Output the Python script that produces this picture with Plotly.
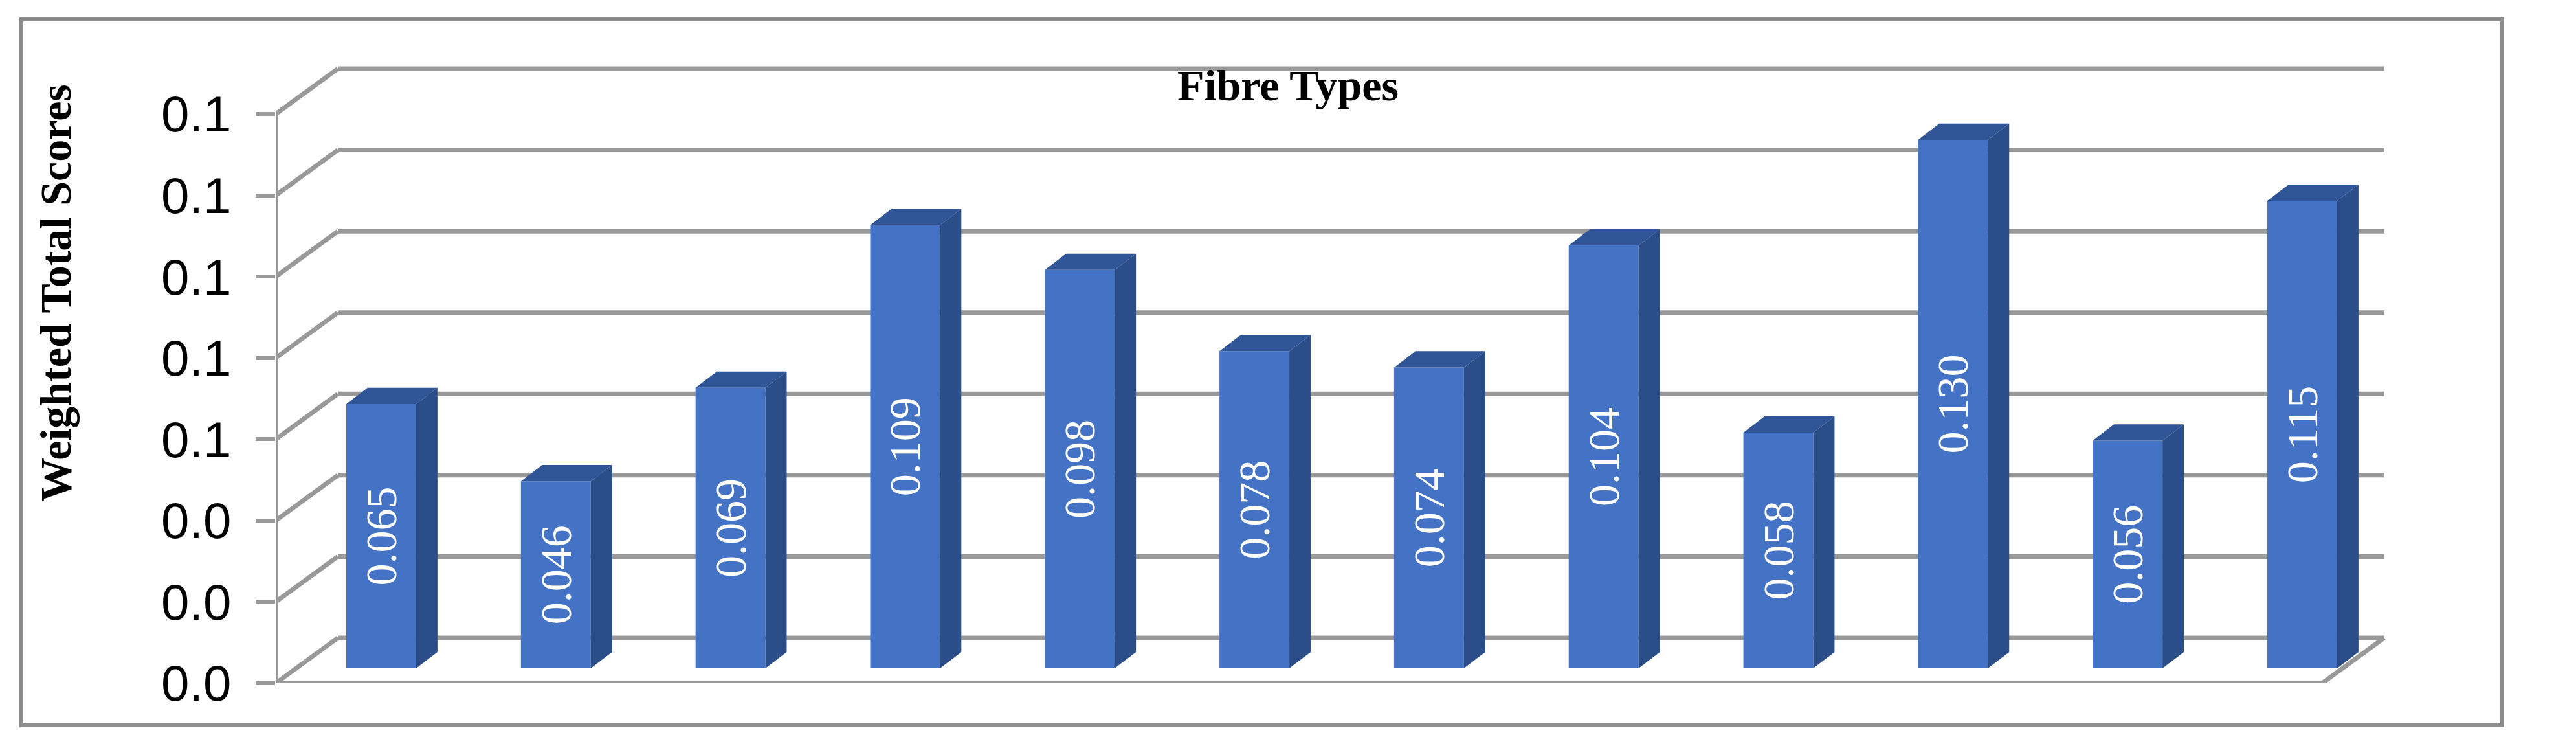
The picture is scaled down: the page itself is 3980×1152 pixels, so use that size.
import plotly.graph_objects as go

scores = [0.065, 0.046, 0.069, 0.109, 0.098, 0.078, 0.074, 0.104, 0.058, 0.130, 0.056, 0.115]
bar_labels = ["0.065", "0.046", "0.069", "0.109", "0.098", "0.078", "0.074", "0.104", "0.058", "0.130", "0.056", "0.115"]
positions = list(range(len(scores)))
tick_values = [0, 0.02, 0.04, 0.06, 0.08, 0.10, 0.12, 0.14]

W, H = 3980, 1152
GRAY = "#999999"

# fake 3D: how far the floor and the bars are pushed back, in axis units
wall_left, wall_right = -0.604, 11.47
wall_dx, wall_dy = 0.356, 0.01116
bar_w = 0.4
bar_base = 0.00366
bar_dx, bar_dy = 0.122, 0.004

fig = go.Figure()

side_x, side_y, top_x, top_y = [], [], [], []
for p, v in zip(positions, scores):
    xl, xr = p - bar_w / 2, p + bar_w / 2
    low, high = bar_base, bar_base + v
    side_x += [xr, xr + bar_dx, xr + bar_dx, xr, xr, None]
    side_y += [low, low + bar_dy, high + bar_dy, high, low, None]
    top_x += [xl, xl + bar_dx, xr + bar_dx, xr, xl, None]
    top_y += [high, high + bar_dy, high + bar_dy, high, high, None]

fig.add_trace(go.Bar(x=positions, y=scores, base=bar_base, width=bar_w,
                     marker=dict(color="#4472C4", line_width=0),
                     text=bar_labels, textposition="inside", textangle=-90,
                     insidetextanchor="middle",
                     textfont=dict(family="Liberation Serif", size=68, color="white"),
                     insidetextfont=dict(family="Liberation Serif", size=68, color="white"),
                     hoverinfo="skip"))
fig.add_trace(go.Scatter(x=side_x, y=side_y, mode="lines", fill="toself",
                         fillcolor="#2C4E88", line=dict(width=0), hoverinfo="skip"))
fig.add_trace(go.Scatter(x=top_x, y=top_y, mode="lines", fill="toself",
                         fillcolor="#305596", line=dict(width=0), hoverinfo="skip"))

shapes = []


def wall_line(x0, y0, x1, y1):
    shapes.append(dict(type="line", xref="x", yref="y", x0=x0, y0=y0, x1=x1, y1=y1,
                       layer="below", line=dict(color=GRAY, width=7)))


for t in tick_values:
    wall_line(wall_left, t, wall_left + wall_dx, t + wall_dy)
    wall_line(wall_left + wall_dx, t + wall_dy, wall_right, t + wall_dy)
wall_line(wall_left, 0, wall_left, tick_values[-1])
wall_line(wall_left, 0, wall_right - wall_dx, 0)
wall_line(wall_right - wall_dx, 0, wall_right, wall_dy)

# outer frame
shapes.append(dict(type="rect", xref="paper", yref="paper",
                   x0=33 / W, x1=3866 / W, y0=1 - 1120 / H, y1=1 - 30 / H,
                   layer="below", line=dict(color="#8C8C8C", width=6)))

fig.update_layout(
    width=W, height=H,
    margin=dict(l=0, r=0, t=0, b=0),
    paper_bgcolor="white", plot_bgcolor="white",
    font=dict(family="Liberation Serif"),
    showlegend=False,
    shapes=shapes,
    title=dict(text="<b>Fibre Types</b>", x=1990 / W, xref="paper", xanchor="center",
               y=1 - 131 / H, yref="paper", yanchor="middle",
               font=dict(family="Liberation Serif", size=68, color="black")),
    annotations=[dict(text="<b>Weighted Total Scores</b>", xref="paper", yref="paper",
                      x=86 / W, y=1 - 453 / H, xanchor="center", yanchor="middle",
                      textangle=-90, showarrow=False,
                      font=dict(family="Liberation Serif", size=68, color="black"))],
)
fig.update_xaxes(domain=[426 / W, 3700 / W], range=[-0.604, 11.53], automargin=False,
                 showticklabels=False, showgrid=False, zeroline=False, showline=False)
fig.update_yaxes(domain=[1 - 1055 / H, 1 - 100 / H], range=[0, 955 / 6278], automargin=False,
                 tickvals=tick_values, tickformat=".1f",
                 ticks="outside", ticklen=30, tickwidth=6, tickcolor=GRAY,
                 ticklabelstandoff=22,
                 tickfont=dict(family="Liberation Sans", size=78, color="black"),
                 showgrid=False, zeroline=False, showline=False)

fig.write_html("out.html", config={"displayModeBar": False},
               post_script="document.body.style.margin='0';")
